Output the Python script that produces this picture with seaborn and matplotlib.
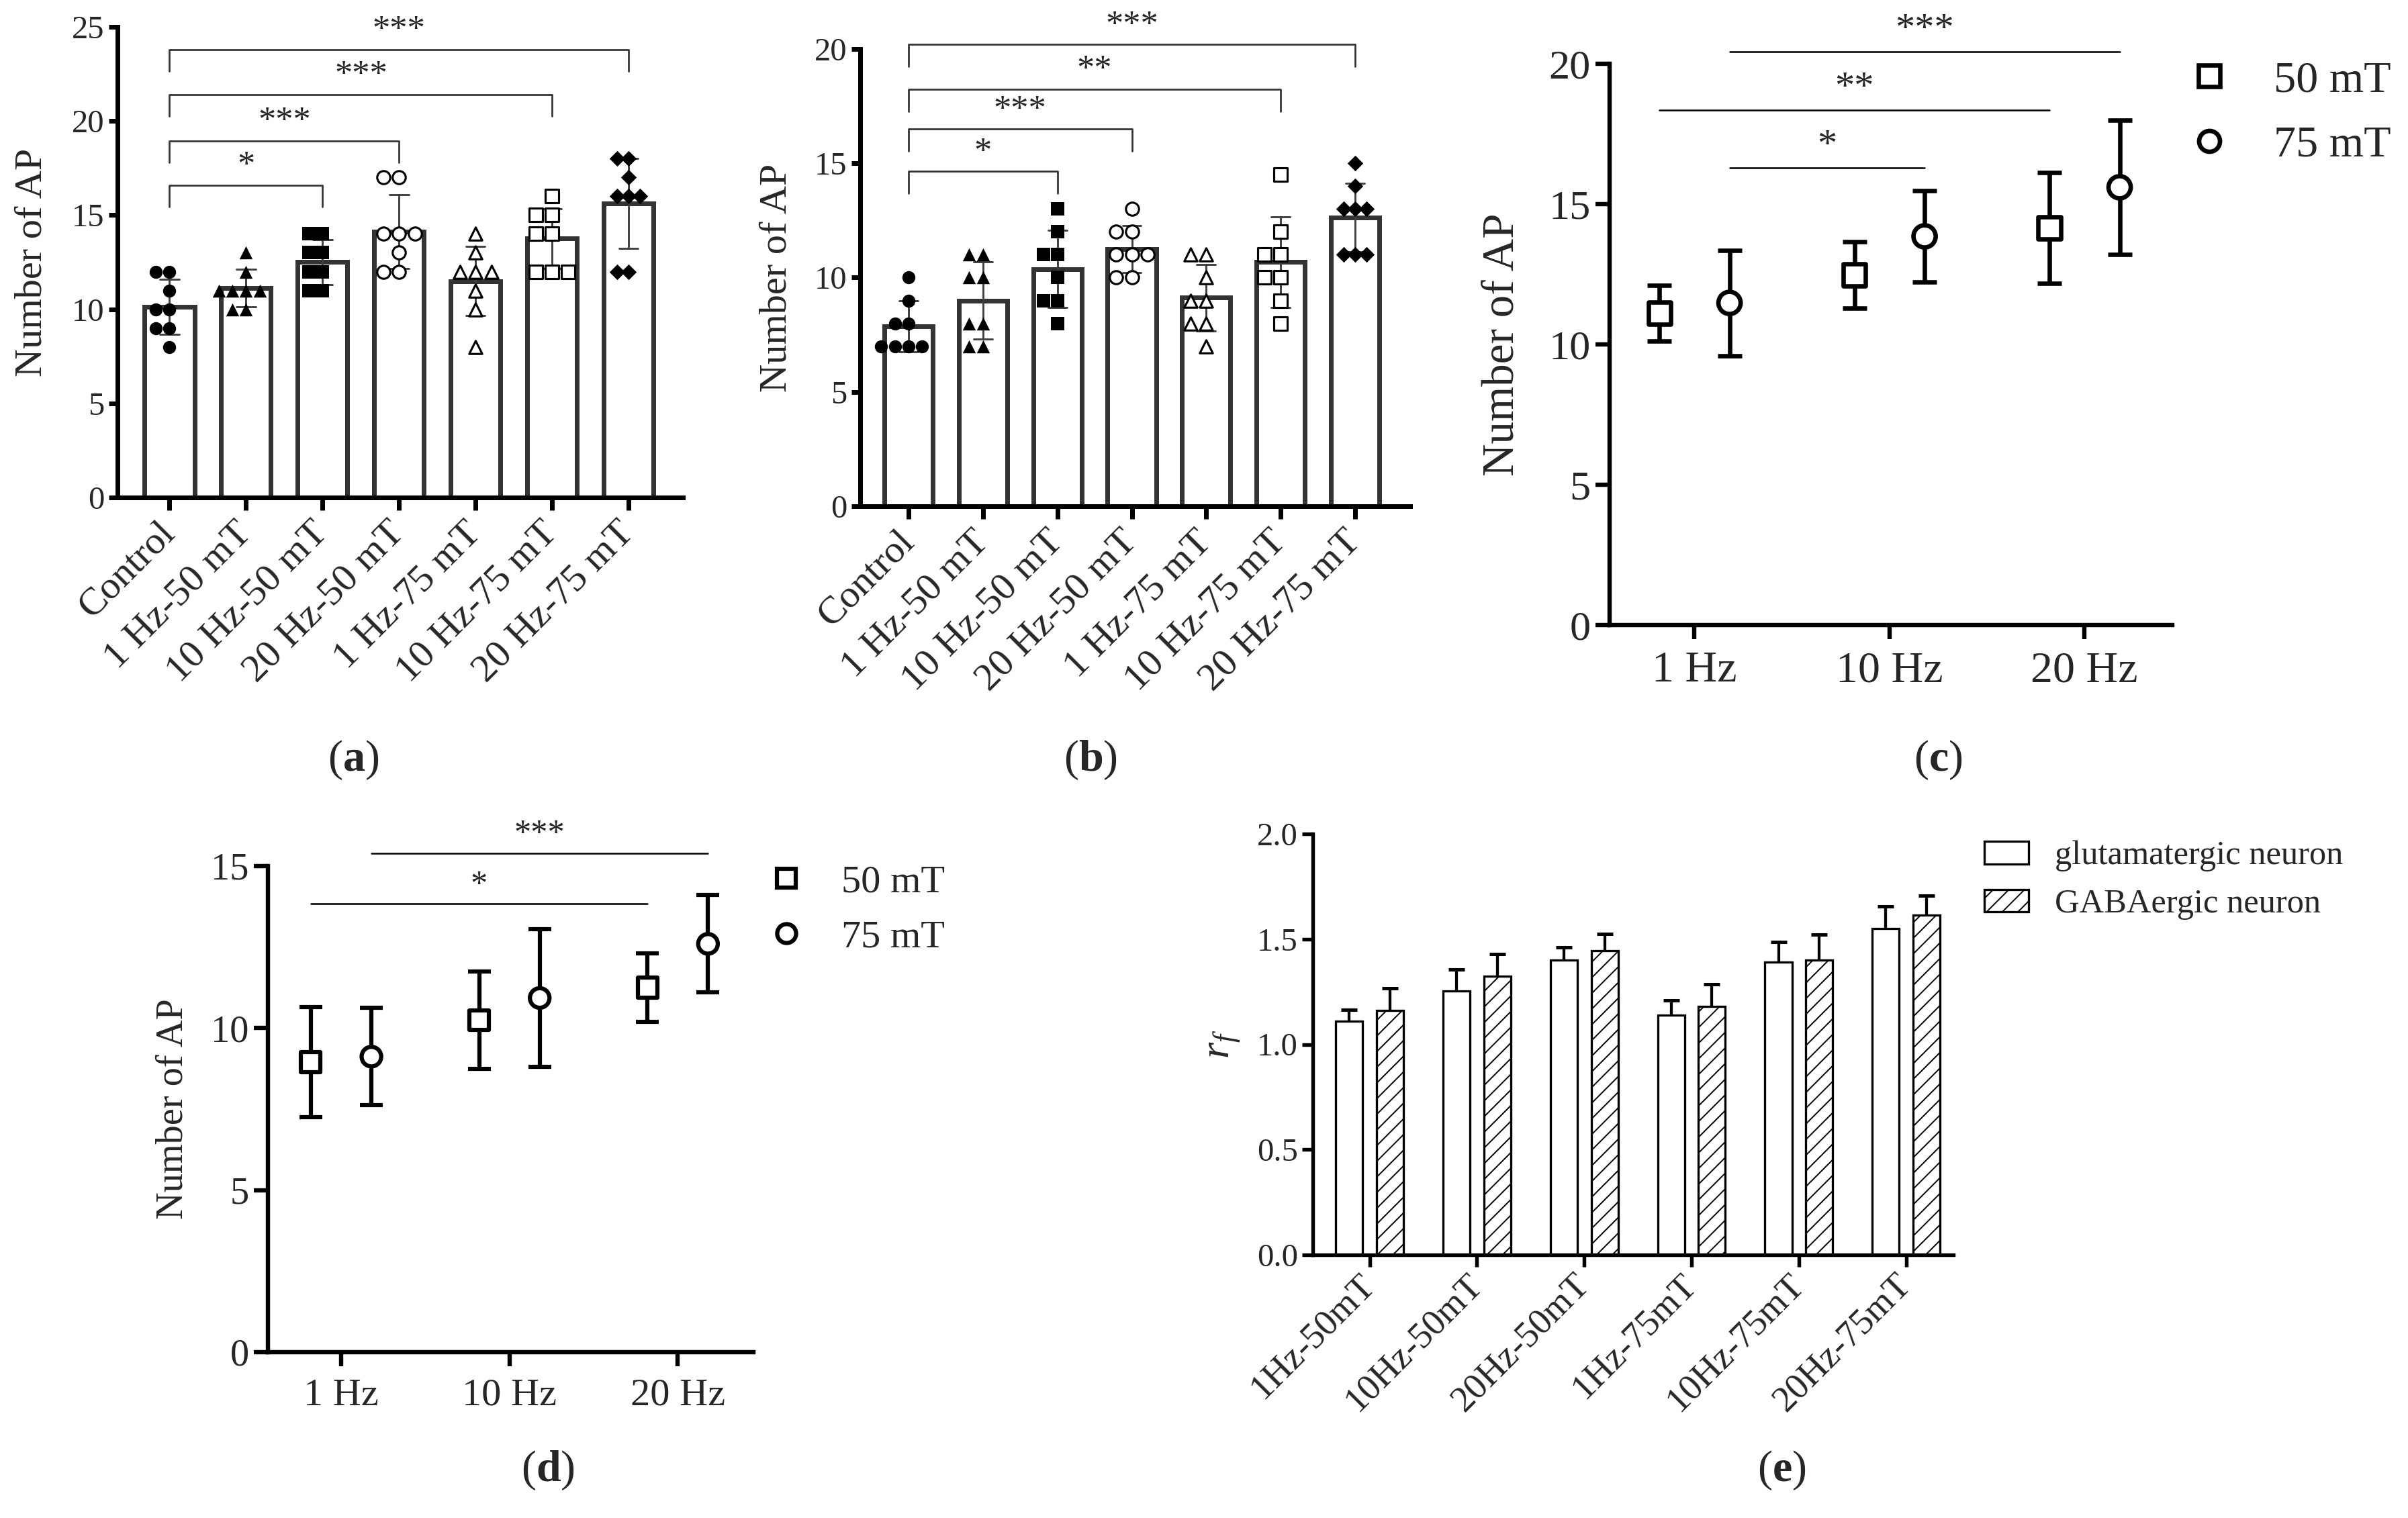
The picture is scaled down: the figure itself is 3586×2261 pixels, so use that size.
import numpy as np
import pandas as pd
import seaborn as sns
import matplotlib.pyplot as plt
from matplotlib.lines import Line2D
from matplotlib.patches import Patch

W, H, DPI = 3586, 2261, 140

# ---- data ----
groups = ['Control', '1 Hz-50 mT', '10 Hz-50 mT', '20 Hz-50 mT',
          '1 Hz-75 mT', '10 Hz-75 mT', '20 Hz-75 mT']
group_markers = ['o', '^', 's', 'o', '^', 's', 'D']
group_filled = [True, True, True, False, False, False, True]

# (a) number of AP per cell, glutamatergic
a_control = [12, 12, 11, 10, 10, 9, 9, 8]
a_1hz_50 = [13, 12, 11, 11, 11, 11, 10, 10]
a_10hz_50 = [14, 14, 13, 13, 12, 12, 11, 11]
a_20hz_50 = [17, 17, 14, 14, 14, 13, 12, 12]
a_1hz_75 = [14, 13, 12, 12, 12, 11, 10, 8]
a_10hz_75 = [16, 15, 15, 14, 14, 12, 12, 12]
a_20hz_75 = [18, 18, 17, 16, 16, 16, 12, 12]
a_brackets = [(0, 2, 16.6, '*'), (0, 3, 18.95, '***'),
              (0, 5, 21.4, '***'), (0, 6, 23.8, '***')]

# (b) number of AP per cell, GABAergic
b_control = [10, 9, 8, 8, 7, 7, 7, 7]
b_1hz_50 = [11, 11, 10, 10, 8, 8, 7, 7]
b_10hz_50 = [13, 12, 11, 11, 10, 9, 9, 8]
b_20hz_50 = [13, 12, 12, 11, 11, 11, 10, 10]
b_1hz_75 = [11, 11, 10, 9, 9, 8, 8, 7]
b_10hz_75 = [14.5, 12, 11, 11, 10, 10, 9, 8]
b_20hz_75 = [15, 14, 13, 13, 13, 11, 11, 11]
b_brackets = [(0, 2, 14.65, '*'), (0, 3, 16.5, '***'),
              (0, 5, 18.25, '**'), (0, 6, 20.2, '***')]

# (c), (d) mean and SD
freqs = ['1 Hz', '10 Hz', '20 Hz']
fields = ['50 mT', '75 mT']
c_mean_50 = [11.12, 12.48, 14.15]
c_sd_50 = [0.99, 1.18, 1.98]
c_mean_75 = [11.48, 13.85, 15.6]
c_sd_75 = [1.88, 1.63, 2.4]
c_sig = [('1 Hz', '75 mT', '20 Hz', '75 mT', 20.44, '***'),
         ('1 Hz', '50 mT', '20 Hz', '50 mT', 18.35, '**'),
         ('1 Hz', '75 mT', '10 Hz', '75 mT', 16.3, '*')]

d_mean_50 = [8.95, 10.25, 11.25]
d_sd_50 = [1.69, 1.5, 1.05]
d_mean_75 = [9.12, 10.93, 12.6]
d_sd_75 = [1.5, 2.13, 1.5]
d_sig = [('1 Hz', '75 mT', '20 Hz', '75 mT', 15.4, '***'),
         ('1 Hz', '50 mT', '20 Hz', '50 mT', 13.83, '*')]

# (e) r_f
e_groups = ['1Hz-50mT', '10Hz-50mT', '20Hz-50mT', '1Hz-75mT', '10Hz-75mT', '20Hz-75mT']
cell_types = ['glutamatergic neuron', 'GABAergic neuron']
e_glut = [1.11, 1.255, 1.40, 1.14, 1.39, 1.55]
e_glut_err = [0.055, 0.10, 0.06, 0.07, 0.095, 0.105]
e_gaba = [1.16, 1.325, 1.445, 1.18, 1.40, 1.615]
e_gaba_err = [0.105, 0.105, 0.08, 0.105, 0.12, 0.09]

# ---- style ----
sns.set_style('ticks')
plt.rcParams['font.family'] = ['Liberation Serif', 'DejaVu Serif']
plt.rcParams['mathtext.fontset'] = 'custom'
plt.rcParams['mathtext.rm'] = 'Liberation Serif'
plt.rcParams['mathtext.it'] = 'Liberation Serif:italic'
plt.rcParams['mathtext.bf'] = 'Liberation Serif:bold'
plt.rcParams['hatch.linewidth'] = 1.0

fig = plt.figure(figsize=(W / DPI, H / DPI), dpi=DPI)


def px_axes(left, top, right, bottom):
    return fig.add_axes([left / W, 1 - bottom / H, (right - left) / W, (bottom - top) / H])


def style_axes(ax, spine_w, ytick_len, xtick_len, ysize, xsize):
    sns.despine(ax=ax)
    for s in ['left', 'bottom']:
        ax.spines[s].set_linewidth(spine_w)
        ax.spines[s].set_color('black')
    ax.tick_params(axis='y', width=spine_w, length=ytick_len, labelsize=ysize, color='black')
    ax.tick_params(axis='x', width=spine_w, length=xtick_len, labelsize=xsize, color='black')
    ax.set_xlabel('')


def bar_scatter_panel(ax, values, brackets, ymax, leg, xlim):
    df = pd.DataFrame({'group': np.repeat(groups, [len(v) for v in values]),
                       'value': np.concatenate(values)})
    sns.barplot(data=df, x='group', y='value', order=groups, errorbar='sd', width=0.65,
                color='white', edgecolor='#333333', linewidth=3.6, capsize=0.25,
                err_kws={'color': '#404040', 'linewidth': 1.5}, ax=ax)
    for g, m, f in zip(groups, group_markers, group_filled):
        sns.swarmplot(data=df[df['group'] == g], x='group', y='value', order=groups,
                      marker=m, size=8.5 if m == 'D' else 10,
                      color='black' if f else 'white', edgecolor='black',
                      linewidth=0 if f else 1.6, ax=ax, zorder=4)
    for i0, i1, y, stars in brackets:
        ax.plot([i0, i0, i1, i1], [y - leg, y, y, y - leg], color='#333333', lw=1.4,
                clip_on=False)
        ax.annotate(stars, xy=((i0 + i1) / 2, y), xytext=(0, 7.5), textcoords='offset points',
                    ha='center', va='baseline', fontsize=27, annotation_clip=False)
    ax.set_xlim(*xlim)
    ax.set_ylim(0, ymax)
    ax.set_yticks(np.arange(0, ymax + 1, 5))
    style_axes(ax, 3.6, 6.5, 10, 25, 30)
    ax.set_ylabel('Number of AP', fontsize=30)
    ax.yaxis.set_label_coords(-0.12, 0.5)
    ax.tick_params(axis='x', pad=13)
    for lab in ax.get_xticklabels():
        lab.set_rotation(45)
        lab.set_ha('right')
        lab.set_va('center')
        lab.set_rotation_mode('anchor')


def mean_sd_panel(ax, m50, s50, m75, s75, sig, ymax, ms, lw, cap, sizes, star_pts):
    df = pd.DataFrame({'freq': freqs * 2, 'field': ['50 mT'] * 3 + ['75 mT'] * 3,
                       'mean': m50 + m75, 'sd': s50 + s75})
    df['x'] = df['freq'].map({f: i for i, f in enumerate(freqs)}) + \
        df['field'].map({'50 mT': -0.18, '75 mT': 0.18})
    ax.errorbar(df['x'], df['mean'], yerr=df['sd'], fmt='none', ecolor='black',
                elinewidth=lw, capsize=cap, capthick=lw, zorder=2)
    sns.scatterplot(data=df, x='x', y='mean', style='field', style_order=fields,
                    markers={'50 mT': 's', '75 mT': 'o'}, s=ms ** 2, color='white',
                    edgecolor='black', linewidth=lw, legend=False, zorder=3, ax=ax)
    pos = {(f, g): x for f, g, x in zip(df['freq'], df['field'], df['x'])}
    for f0, g0, f1, g1, y, stars in sig:
        x0, x1 = pos[(f0, g0)], pos[(f1, g1)]
        ax.plot([x0, x1], [y, y], color='black', lw=1.3, clip_on=False)
        ax.annotate(stars, xy=((x0 + x1) / 2, y), xytext=(0, star_pts), textcoords='offset points',
                    ha='center', va='baseline', fontsize=sizes[4], annotation_clip=False)
    ax.set_xlim(-0.435, 2.45)
    ax.set_ylim(0, ymax)
    ax.set_yticks(np.arange(0, ymax + 1, 5))
    ax.set_xticks(range(len(freqs)))
    ax.set_xticklabels(freqs)
    style_axes(ax, 3.3, 11, 11, sizes[0], sizes[1])
    ax.tick_params(axis='x', pad=9)
    ax.set_ylabel('Number of AP', fontsize=sizes[2])


def marker_legend(anchor, size, ms, mew, textpad, spacing):
    handles = [Line2D([], [], marker=m, linestyle='none', markerfacecolor='white',
                      markeredgecolor='black', markersize=ms, markeredgewidth=mew, label=lab)
               for m, lab in zip(['s', 'o'], fields)]
    fig.legend(handles=handles, loc='upper left', bbox_to_anchor=anchor, frameon=False,
               fontsize=size, handlelength=1.0, handletextpad=textpad,
               labelspacing=spacing, borderpad=0, borderaxespad=0)


# ---- (a) ----
ax_a = px_axes(175, 40, 1017, 741)
bar_scatter_panel(ax_a, [a_control, a_1hz_50, a_10hz_50, a_20hz_50, a_1hz_75, a_10hz_75, a_20hz_75],
                  a_brackets, 25, 1.15, (-0.68, 6.71))

# ---- (b) ----
ax_b = px_axes(1281, 73, 2100, 754)
bar_scatter_panel(ax_b, [b_control, b_1hz_50, b_10hz_50, b_20hz_50, b_1hz_75, b_10hz_75, b_20hz_75],
                  b_brackets, 20, 0.97, (-0.65, 6.74))

# ---- (c) ----
ax_c = px_axes(2397, 95, 3235, 931)
mean_sd_panel(ax_c, c_mean_50, c_sd_50, c_mean_75, c_sd_75, c_sig, 20,
              17, 3.4, 9.5, (32, 34, 34.5, 34, 30), 9)
ax_c.yaxis.set_label_coords(-0.155, 0.5)
marker_legend((3257 / W, 1 - 90 / H), 34, 16, 3.4, 0.95, 0.55)

# ---- (d) ----
ax_d = px_axes(399, 1290, 1122, 2014)
mean_sd_panel(ax_d, d_mean_50, d_sd_50, d_mean_75, d_sd_75, d_sig, 15,
              15, 3.2, 8.5, (29, 30, 29, 30, 26), 8)
ax_d.yaxis.set_label_coords(-0.16, 0.5)
marker_legend((1142 / W, 1 - 1288 / H), 30, 14.5, 3.2, 0.9, 0.5)

# ---- (e) ----
ax_e = px_axes(1955, 1242, 2909, 1869)
df_e = pd.DataFrame({'condition': e_groups * 2,
                     'cell': [cell_types[0]] * 6 + [cell_types[1]] * 6,
                     'rf': e_glut + e_gaba})
sns.barplot(data=df_e, x='condition', y='rf', hue='cell', order=e_groups, hue_order=cell_types,
            palette=['white', 'white'], edgecolor='black', linewidth=1.7, width=0.76, gap=0.34,
            errorbar=None, legend=False, ax=ax_e)
for bars, errs, hatch in zip(ax_e.containers, [e_glut_err, e_gaba_err], ['', '//']):
    xs = [b.get_x() + b.get_width() / 2 for b in bars]
    hs = [b.get_height() for b in bars]
    for b in bars:
        b.set_hatch(hatch)
    _, caps, _ = ax_e.errorbar(xs, hs, yerr=[np.zeros(len(errs)), errs], fmt='none',
                               ecolor='black', elinewidth=2.2, capsize=6, capthick=2.6)
    caps[0].set_visible(False)
ax_e.set_xlim(-0.53, 5.44)
ax_e.set_ylim(0, 2.0)
ax_e.set_yticks(np.arange(0, 2.01, 0.5))
ax_e.set_yticklabels([f'{v:.1f}' for v in np.arange(0, 2.01, 0.5)])
style_axes(ax_e, 2.8, 8, 9, 25, 28)
ax_e.set_ylabel(r'$r_f$', fontsize=32)
ax_e.yaxis.set_label_coords(-0.11, 0.5)
ax_e.tick_params(axis='x', pad=10)
for lab in ax_e.get_xticklabels():
    lab.set_rotation(45)
    lab.set_ha('right')
    lab.set_va('center')
    lab.set_rotation_mode('anchor')

patch_handles = [Patch(facecolor='white', edgecolor='black', linewidth=1.7, label=cell_types[0]),
                 Patch(facecolor='white', edgecolor='black', linewidth=1.7, hatch='//',
                       label=cell_types[1])]
fig.legend(handles=patch_handles, loc='upper left', bbox_to_anchor=(2955 / W, 1 - 1252 / H),
           frameon=False, fontsize=26, handlelength=1.3, handleheight=0.65,
           handletextpad=0.77, labelspacing=0.5, borderpad=0, borderaxespad=0)

# ---- panel labels ----
for lab, (x, y) in zip('abcde', [(526, 1132), (1624, 1132), (2886, 1132), (816, 2190), (2653, 2190)]):
    fig.text(x / W, 1 - y / H, r'$(\mathbf{' + lab + r'})$', ha='center', va='center', fontsize=34)

fig.savefig('out.png', dpi=DPI, facecolor='white')
